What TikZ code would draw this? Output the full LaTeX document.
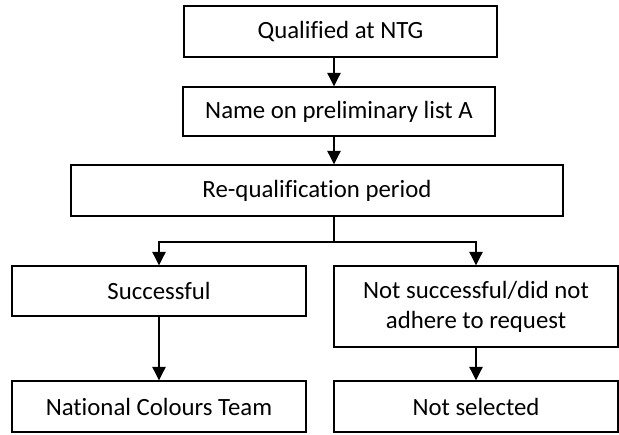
\documentclass[tikz,border=0pt]{standalone}
\usepackage{fontspec}
\setmainfont{Carlito}[Ligatures=NoCommon]
\usetikzlibrary{arrows.meta}
\usetikzlibrary{calc}

\begin{document}
\begin{tikzpicture}[x=0.75pt,y=-0.75pt,inner sep=2pt,
        stage/.style={draw,rectangle,line width=1.1pt,align=center,
            font=\fontsize{18.6}{22.6}\selectfont},
        link/.style={line width=0.9pt},
        >={Triangle[length=10pt,width=10pt]}]
        \useasboundingbox (0,0) rectangle (619,435);
        \draw node [stage,minimum width=234.75pt,minimum height=38.25pt]
            (S01) at (340.5,31.5) {Qualified at NTG};
        \draw node [stage,minimum width=234pt,minimum height=36.75pt]
            (S02) at (339,111.5) {Name on preliminary list A};
        \draw node [stage,minimum width=369pt,minimum height=38.25pt]
            (S03) at (317,190.5) {Re-qualification period};
        \draw node [stage,minimum width=220.5pt,minimum height=37.5pt]
            (S04) at (159,291) {Successful};
        \draw node [stage,minimum width=213pt,minimum height=60.75pt]
            (S05) at (476,306.5) {Not successful/did not\\adhere to request};
        \draw node [stage,minimum width=220.5pt,minimum height=38.25pt]
            (S06) at (159,406.5) {National Colours Team};
        \draw node [stage,minimum width=213pt,minimum height=38.25pt]
            (S07) at (476,406.5) {Not selected};
        \coordinate (T01) at (334,0);
        \coordinate (T02) at (334,242);
        \draw [link,->] (S01.south -| T01) -- (S02.north -| T01);
        \draw [link,->] (S02.south -| T01) -- (S03.north -| T01);
        \draw [link] (S03.south -| T02) -- (T02);
        \draw [link,->] (T02) -| (S04.north);
        \draw [link,->] (T02) -| (S05.north);
        \draw [link,->] (S04.south) -- (S06.north);
        \draw [link,->] (S05.south) -- (S07.north);
    \end{tikzpicture}
\end{document}
